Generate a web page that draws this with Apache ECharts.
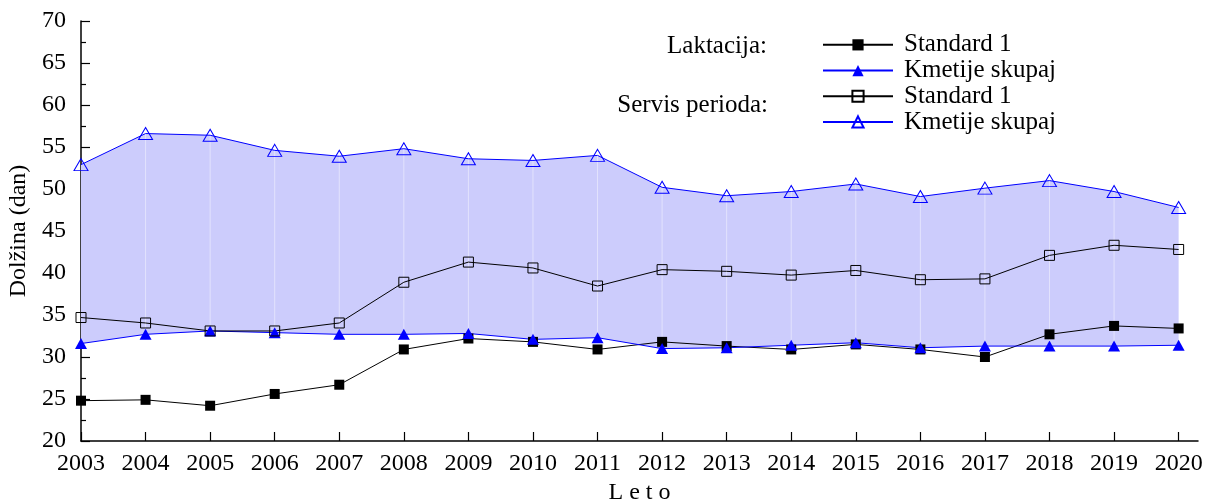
<!DOCTYPE html>
<html>
<head>
<meta charset="utf-8">
<script src="https://cdn.jsdelivr.net/npm/echarts@6/dist/echarts.min.js"></script>
<style>
  html, body { margin: 0; padding: 0; background: #fff; }
  #chart { width: 1211px; height: 499px; }
</style>
</head>
<body>
<div id="chart"></div>
<script>
// leta (x os)
var years = [2003, 2004, 2005, 2006, 2007, 2008, 2009, 2010, 2011, 2012, 2013, 2014, 2015, 2016, 2017, 2018, 2019, 2020];
var yTicks = [20, 25, 30, 35, 40, 45, 50, 55, 60, 65, 70];

// Laktacija
var laktStandard = [24.8, 24.9, 24.2, 25.6, 26.7, 30.9, 32.2, 31.8, 30.9, 31.8, 31.3, 30.9, 31.5, 30.9, 30.0, 32.7, 33.7, 33.4];
var laktKmetije  = [31.6, 32.7, 33.1, 32.9, 32.7, 32.7, 32.8, 32.1, 32.3, 31.0, 31.1, 31.4, 31.7, 31.1, 31.3, 31.3, 31.3, 31.4];

// Servis perioda
var servStandard = [34.7, 34.05, 33.1, 33.1, 34.05, 38.9, 41.3, 40.6, 38.45, 40.4, 40.2, 39.75, 40.3, 39.2, 39.3, 42.1, 43.3, 42.8];
var servKmetije  = [52.9, 56.6, 56.4, 54.6, 53.9, 54.8, 53.6, 53.4, 54.0, 50.2, 49.2, 49.7, 50.6, 49.1, 50.1, 51.0, 49.7, 47.8];

var FONT = 'Liberation Serif';

function pairs(vals) {
    return years.map(function (y, i) { return [y, vals[i]]; });
}

var chart = echarts.init(document.getElementById('chart'), null, { renderer: 'canvas' });

var option = {
    animation: false,
    backgroundColor: '#fff',
    textStyle: { fontFamily: FONT },
    grid: { left: 81, right: 13, top: 21, bottom: 58, outerBoundsMode: 'none' },
    legend: {
        orient: 'vertical',
        left: 817,
        top: 27,
        itemWidth: 70,
        itemHeight: 14,
        itemGap: 0,
        data: ['lak|Standard 1', 'lak|Kmetije skupaj', 'ser|Standard 1', 'ser|Kmetije skupaj'],
        formatter: function (name) { return name.split('|')[1]; },
        textStyle: { fontFamily: FONT, fontSize: 25, color: '#000', lineHeight: 25.7, padding: [0, 0, 0, 6] },
        selectedMode: false
    },
    graphic: [
        { type: 'text', right: 1211 - 767, top: 34, style: { text: 'Laktacija:', font: '25px "Liberation Serif"', fill: '#000' } },
        { type: 'text', right: 1211 - 768, top: 93, style: { text: 'Servis perioda:', font: '25px "Liberation Serif"', fill: '#000' } }
    ],
    xAxis: {
        type: 'value',
        min: 2003,
        max: 2020.3,
        interval: 1,
        name: 'L e t o',
        nameLocation: 'middle',
        nameGap: 38,
        nameTextStyle: { fontFamily: FONT, fontSize: 24, color: '#000' },
        axisLine: { lineStyle: { color: '#000', width: 1.5 } },
        axisTick: { inside: true, length: 9, customValues: years, lineStyle: { color: '#000', width: 1.2 } },
        axisLabel: { customValues: years, margin: 11, fontFamily: FONT, fontSize: 24, color: '#000',
            formatter: function (v) { return String(v); } },
        splitLine: { show: false }
    },
    yAxis: {
        type: 'value',
        min: 20,
        max: 70,
        interval: 5,
        name: 'Dolžina (dan)',
        nameLocation: 'middle',
        nameGap: 47,
        nameTextStyle: { fontFamily: FONT, fontSize: 24, color: '#000' },
        axisLine: { show: true, lineStyle: { color: '#000', width: 1.5 } },
        axisTick: { inside: true, length: 9, lineStyle: { color: '#000', width: 1.2 } },
        minorTick: { show: true, splitNumber: 2, length: 5, lineStyle: { color: '#000', width: 1.2 } },
        axisLabel: { margin: 15, fontFamily: FONT, fontSize: 24, color: '#000' },
        splitLine: { show: false }
    },
    series: [
        {
            // pas med obema "Kmetije skupaj"
            type: 'custom',
            name: 'band',
            z: 1,
            silent: true,
            data: [[2003, 40]],
            renderItem: function (params, api) {
                var upper = years.map(function (y, i) { return api.coord([y, servKmetije[i]]); });
                var lower = years.map(function (y, i) { return api.coord([y, laktKmetije[i]]); }).reverse();
                var children = [{
                    type: 'polygon',
                    shape: { points: upper.concat(lower) },
                    style: { fill: '#ccccfc', stroke: null }
                }];
                years.forEach(function (y, i) {
                    if (i === 0 || i === years.length - 1) return;
                    var a = api.coord([y, servKmetije[i]]);
                    var b = api.coord([y, laktKmetije[i]]);
                    children.push({
                        type: 'line',
                        shape: { x1: a[0], y1: a[1], x2: b[0], y2: b[1] },
                        style: { stroke: 'rgba(255,255,255,0.45)', lineWidth: 1 }
                    });
                });
                return { type: 'group', children: children };
            }
        },
        {
            name: 'lak|Standard 1',
            type: 'line',
            data: pairs(laktStandard),
            symbol: 'rect',
            symbolSize: 10,
            lineStyle: { color: '#000', width: 1 },
            itemStyle: { color: '#000' }
        },
        {
            name: 'lak|Kmetije skupaj',
            type: 'line',
            data: pairs(laktKmetije),
            symbol: 'triangle',
            symbolSize: [12, 11],
            lineStyle: { color: '#0000ff', width: 1 },
            itemStyle: { color: '#0000ff' }
        },
        {
            name: 'ser|Standard 1',
            type: 'line',
            data: pairs(servStandard),
            symbol: 'rect',
            symbolSize: 10,
            lineStyle: { color: '#000', width: 1 },
            itemStyle: { color: 'rgba(0,0,0,0)', borderColor: '#000', borderWidth: 1 }
        },
        {
            name: 'ser|Kmetije skupaj',
            type: 'line',
            data: pairs(servKmetije),
            symbol: 'triangle',
            symbolSize: [14, 12],
            lineStyle: { color: '#0000ff', width: 1 },
            itemStyle: { color: 'rgba(0,0,0,0)', borderColor: '#0000ff', borderWidth: 1 }
        }
    ]
};

chart.setOption(option);
</script>
</body>
</html>
